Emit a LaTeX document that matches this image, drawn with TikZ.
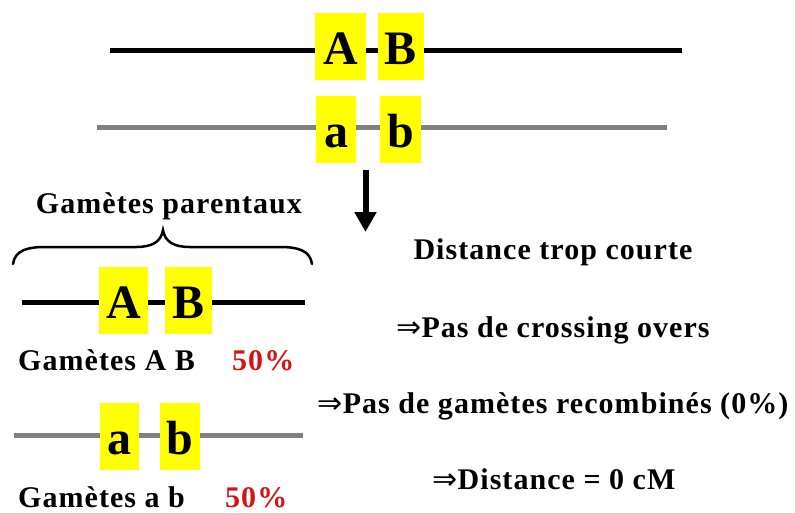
\documentclass[tikz,border=0pt]{standalone}
\usepackage{fontspec}
\setmainfont{Liberation Serif}
\newfontfamily\arrowfont{DejaVu Sans}
\usetikzlibrary{arrows.meta}
\definecolor{genegray}{RGB}{128,128,128}
\definecolor{pctred}{RGB}{210,20,20}
\definecolor{geneyellow}{RGB}{255,255,0}
\newcommand{\impl}{{\arrowfont\mdseries\addfontfeature{LetterSpace=0}⇒}}
\tikzset{
  genebox/.style={fill=geneyellow, inner sep=0pt, text height=51pt, text depth=16pt, anchor=base,
    font=\fontsize{48}{50}\selectfont\bfseries},
  chromblack/.style={line width=5pt, black},
  chromgray/.style={line width=5pt, genegray},
  lbl/.style={inner sep=0pt, anchor=base, font=\fontsize{30}{34}\selectfont\bfseries\addfontfeature{LetterSpace=3.5}},
  lblw/.style={lbl, anchor=base west},
}
\begin{document}
\begin{tikzpicture}[x=1pt,y=-1pt]
\useasboundingbox (0,0) rectangle (795,512);
% top chromosome pair
\coordinate (t1l) at (110,50); \coordinate (t1r) at (682,50);
\coordinate (t2l) at (97,127); \coordinate (t2r) at (667,127);
\draw[chromblack] (t1l) -- (t1r);
\draw[chromgray] (t2l) -- (t2r);
\node[genebox, minimum width=51pt] (tA) at (340.5,64) {A};
\node[genebox, minimum width=46pt] (tB) at (401,64) {B};
\node[genebox, minimum width=40pt] (ta) at (336,147) {a};
\node[genebox, minimum width=41pt] (tb) at (400.5,147) {b};
% arrow
\coordinate (arS) at (365.5,170);
\coordinate (arE) at (365.5,232);
\draw[line width=6pt, -{Triangle[width=21pt,length=20pt]}] (arS) -- (arE);
% brace and label
\node[lbl] (gp) at (169,213) {Gamètes parentaux};
\draw[line width=2.5pt, line cap=round] (13,264) .. controls (15,250) and (28,247) .. (45,247) -- (136,247)
  .. controls (152,247) and (161,242) .. (163,230)
  .. controls (165,242) and (174,247) .. (190,247) -- (280,247)
  .. controls (297,247) and (310,250) .. (312,264);
% left gametes AB
\coordinate (l1l) at (22,302); \coordinate (l1r) at (305,302);
\draw[chromblack] (l1l) -- (l1r);
\node[genebox, minimum width=49pt] (lA) at (123.5,318) {A};
\node[genebox, minimum width=47pt] (lB) at (188.5,318) {B};
\node[lblw] (gAB) at (18,370) {Gamètes A B};
\node[lblw, text=pctred] (pAB) at (232,370) {50\%};
% left gametes ab
\coordinate (l2l) at (14,435); \coordinate (l2r) at (303,435);
\draw[chromgray] (l2l) -- (l2r);
\node[genebox, minimum width=39pt] (la) at (119.5,454) {a};
\node[genebox, minimum width=40pt] (lb) at (180,454) {b};
\node[lblw] (gab) at (18,507) {Gamètes a b};
\node[lblw, text=pctred] (pab) at (225,507) {50\%};
% right texts
\node[lbl] (r1) at (553,259) {Distance trop courte};
\node[lbl] (r2) at (553,337) {\impl Pas de crossing overs};
\node[lbl] (r3) at (553,413) {\impl Pas de gamètes recombinés (0\%)};
\node[lbl] (r4) at (554,489) {\impl Distance = 0 cM};
\end{tikzpicture}
\end{document}
